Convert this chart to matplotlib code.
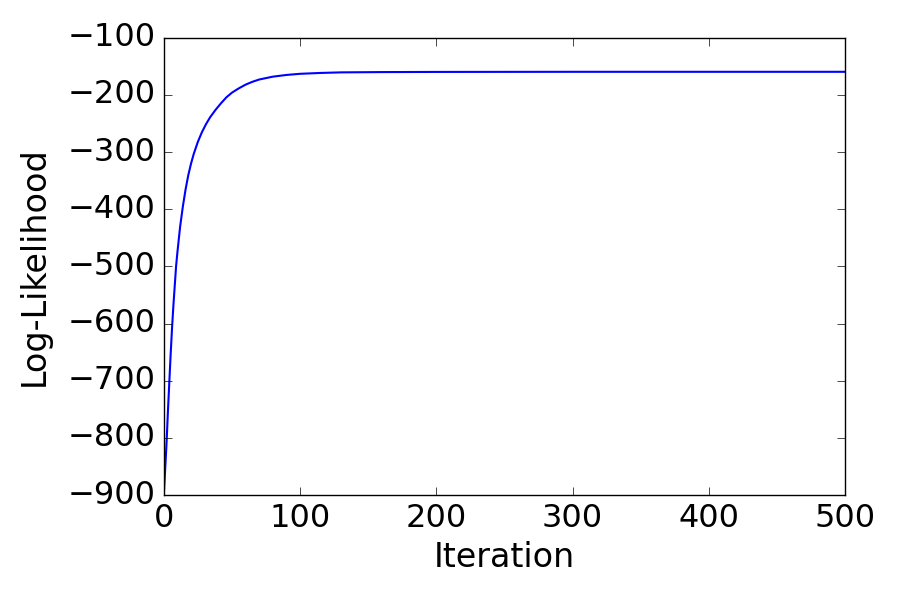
import matplotlib
matplotlib.use("Agg")
import matplotlib.pyplot as plt

# log-likelihood per iteration
iterations = [0, 1, 2, 3, 4, 5, 6, 7, 8, 9, 10, 12, 14, 16, 18, 20, 22, 25, 28, 31, 34,
              38, 42, 46, 50, 55, 60, 65, 70, 80, 90, 100, 115, 130, 160, 200, 300, 400, 500]
loglik = [-900, -855, -810, -755, -705, -655, -610, -570, -535, -500, -475, -430, -395,
          -365, -340, -320, -303, -282, -265, -251, -239, -226, -214.5, -204, -196, -188.5,
          -182, -177, -173, -168, -165, -163, -161.5, -160.5, -160, -159.7, -159.5,
          -159.5, -159.5]

plt.style.use("classic")

fig = plt.figure(figsize=(9, 6), dpi=100, facecolor="white")
ax = fig.add_axes([0.182, 0.175, 0.757, 0.762])
ax.plot(iterations, loglik, color="b", linewidth=1.5)
ax.set_xlim(0, 500)
ax.set_ylim(-900, -100)
ax.set_xticks(range(0, 501, 100))
ax.set_yticks(range(-900, -99, 100))
ax.tick_params(length=6, labelsize=23, pad=6)
ax.set_xlabel("Iteration", fontsize=24)
ax.set_ylabel("Log-Likelihood", fontsize=24, labelpad=12)

fig.savefig("out.png", dpi=100, facecolor="white")
